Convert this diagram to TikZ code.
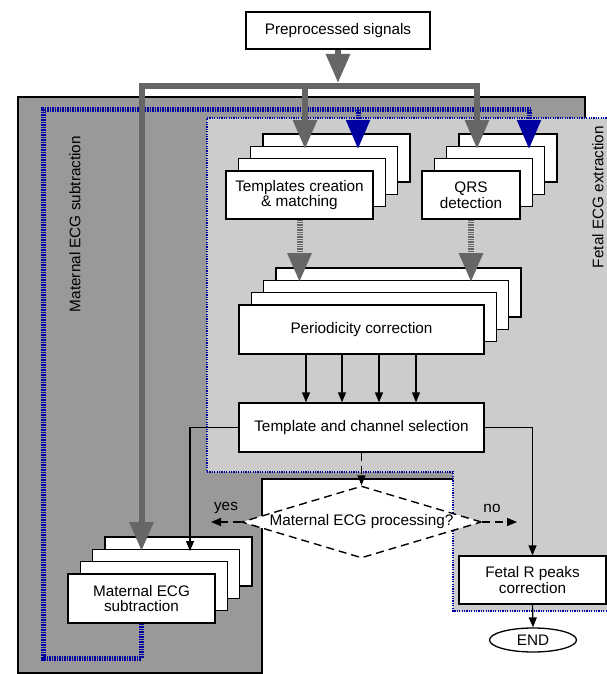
\documentclass[tikz,border=0pt]{standalone}
\usepackage{fontspec}
\setmainfont{Liberation Sans}
\usetikzlibrary{arrows.meta,shapes.geometric}
\definecolor{darkreg}{RGB}{153,153,153}
\definecolor{lightreg}{RGB}{204,204,204}
\definecolor{arrgray}{RGB}{102,102,102}
\definecolor{pathblue}{RGB}{0,0,160}
\begin{document}
\begin{tikzpicture}[x=1pt,y=-1pt,
  font=\fontsize{15.3}{15.5}\selectfont,
  box/.style={draw=black, line width=1.3pt, fill=white, inner sep=0pt, align=center},
  bigtip/.style={-{Triangle[width=23pt,length=29pt]}},
  graybar/.style={draw=arrgray, line width=6pt, line join=miter},
  graydot/.style={draw=arrgray, line width=6pt, dash pattern=on 1.3pt off 1.1pt, -{Triangle[width=23pt,length=29pt,fill=arrgray]}},
  bluepath/.style={draw=pathblue, line width=5pt, dash pattern=on 1.5pt off 1pt},
  bluetip/.style={-{Triangle[width=23pt,length=29pt,fill=pathblue]}},
  blk/.style={draw=black, line width=1.3pt, -{Triangle[width=8pt,length=10pt]}},
  dsh/.style={draw=black, line width=1.4pt, dash pattern=on 8pt off 5pt, -{Triangle[width=8pt,length=10pt]}},
  lbl/.style={inner sep=0pt}
]
\useasboundingbox (0,0) rectangle (607,674);

% regions
\path[fill=darkreg, draw=black, line width=1.3pt]
  (18,97) -- (585,97) -- (585,479) -- (262,479) -- (262,673) -- (18,673) -- cycle;
\path[fill=lightreg, draw=pathblue, line width=1.2pt, dash pattern=on 1.2pt off 1.2pt]
  (207,118) -- (620,118) -- (620,611) -- (453,611) -- (453,472) -- (207,472) -- cycle;

\node[lbl, rotate=90] (mlab) at (75,224) {Maternal ECG subtraction};
\node[lbl, rotate=90] (flab) at (598,197) {Fetal ECG extraction};

% top node
\node[box, minimum width=184pt, minimum height=37pt] (pp) at (338,30.5) {Preprocessed signals};

% stacks
\foreach \i in {3,2,1} {
  \node[box, minimum width=147pt, minimum height=48pt] (tpl\i) at (299.5+12.3*\i,195-12.3*\i) {};
  \node[box, minimum width=98pt, minimum height=48pt] (qrs\i) at (471+12.3*\i,195-12.3*\i) {};
  \node[box, minimum width=245pt, minimum height=49pt] (per\i) at (361.5+12.3*\i,329.5-12.3*\i) {};
  \node[box, minimum width=147pt, minimum height=49pt] (mat\i) at (141.5+12.3*\i,598.5-12.3*\i) {};
}
\node[box, minimum width=147pt, minimum height=48pt] (tpl) at (299.5,195) {Templates creation\\\& matching};
\node[box, minimum width=98pt, minimum height=48pt] (qrs) at (471,195) {QRS\\detection};
\node[box, minimum width=245pt, minimum height=49pt] (per) at (361.5,329.5) {Periodicity correction};
\node[box, minimum width=147pt, minimum height=49pt] (mat) at (141.5,598.5) {Maternal ECG\\subtraction};
\node[box, minimum width=245pt, minimum height=49pt] (tcs) at (361.5,427.5) {Template and channel selection};
\node[box, minimum width=147pt, minimum height=48pt] (fet) at (532.5,580) {Fetal R peaks\\correction};
\node[box, ellipse, minimum width=87pt, minimum height=24pt] (end) at (533,640) {END};

% blue maternal path
\coordinate (bl1) at (141.5,658);
\coordinate (bl2) at (43,658);
\coordinate (bl3) at (43,110);
\coordinate (bl4) at (530,110);
\coordinate (bT) at (358,110);
\coordinate (bQ) at (529,110);
\coordinate (tT) at (358,149);
\coordinate (tQ) at (529,149);
\draw[bluepath] (mat.south) -- (bl1) -- (bl2) -- (bl3) -- (bl4);
\draw[bluepath, bluetip] (bT) -- (tT);
\draw[bluepath, bluetip] (bQ) -- (tQ);

% gray signal distribution
\coordinate (barC) at (338,83);
\coordinate (barL) at (141.5,86);
\coordinate (barM) at (305,86);
\coordinate (barR) at (477,86);
\coordinate (gM) at (141.5,551);
\coordinate (gT) at (305,149);
\coordinate (gQ) at (477,149);
\draw[graybar, bigtip] (pp.south) -- (barC);
\draw[graybar, {Triangle[width=23pt,length=29pt]}-{Triangle[width=23pt,length=29pt]}] (gM) -- (barL) -- (barR) -- (gQ);
\draw[graybar, bigtip] (barM) -- (gT);

% dotted gray to periodicity
\coordinate (pT) at (299.5,282);
\coordinate (pQ) at (471,282);
\draw[graydot] (tpl.south) -- (pT);
\draw[graydot] (qrs.south) -- (pQ);

% periodicity to selection
\foreach \x in {306,342,379,416}
  \draw[blk] (\x,0 |- per.south) -- (\x,0 |- tcs.north);

% selection branches
\coordinate (mT) at (190,551);
\draw[blk] (tcs.west) -| (mT);
\draw[blk] (tcs.east) -| (fet.north);

% decision
\node[diamond, draw=black, line width=1.4pt, dash pattern=on 8pt off 5pt, fill=white,
      aspect=3.33, inner sep=0pt, minimum width=240pt, minimum height=72pt] (dia) at (361.5,522) {Maternal ECG processing?};
\draw[dsh] (tcs.south) -- (dia.north);
\coordinate (yesE) at (211,522);
\coordinate (noE) at (517,522);
\draw[dsh] (dia.west) -- (yesE);
\draw[dsh] (dia.east) -- (noE);
\node[lbl] (yes) at (226,508) {yes};
\node[lbl] (no) at (492,508) {no};

\draw[blk] (fet.south) -- (end.north);
\end{tikzpicture}
\end{document}
